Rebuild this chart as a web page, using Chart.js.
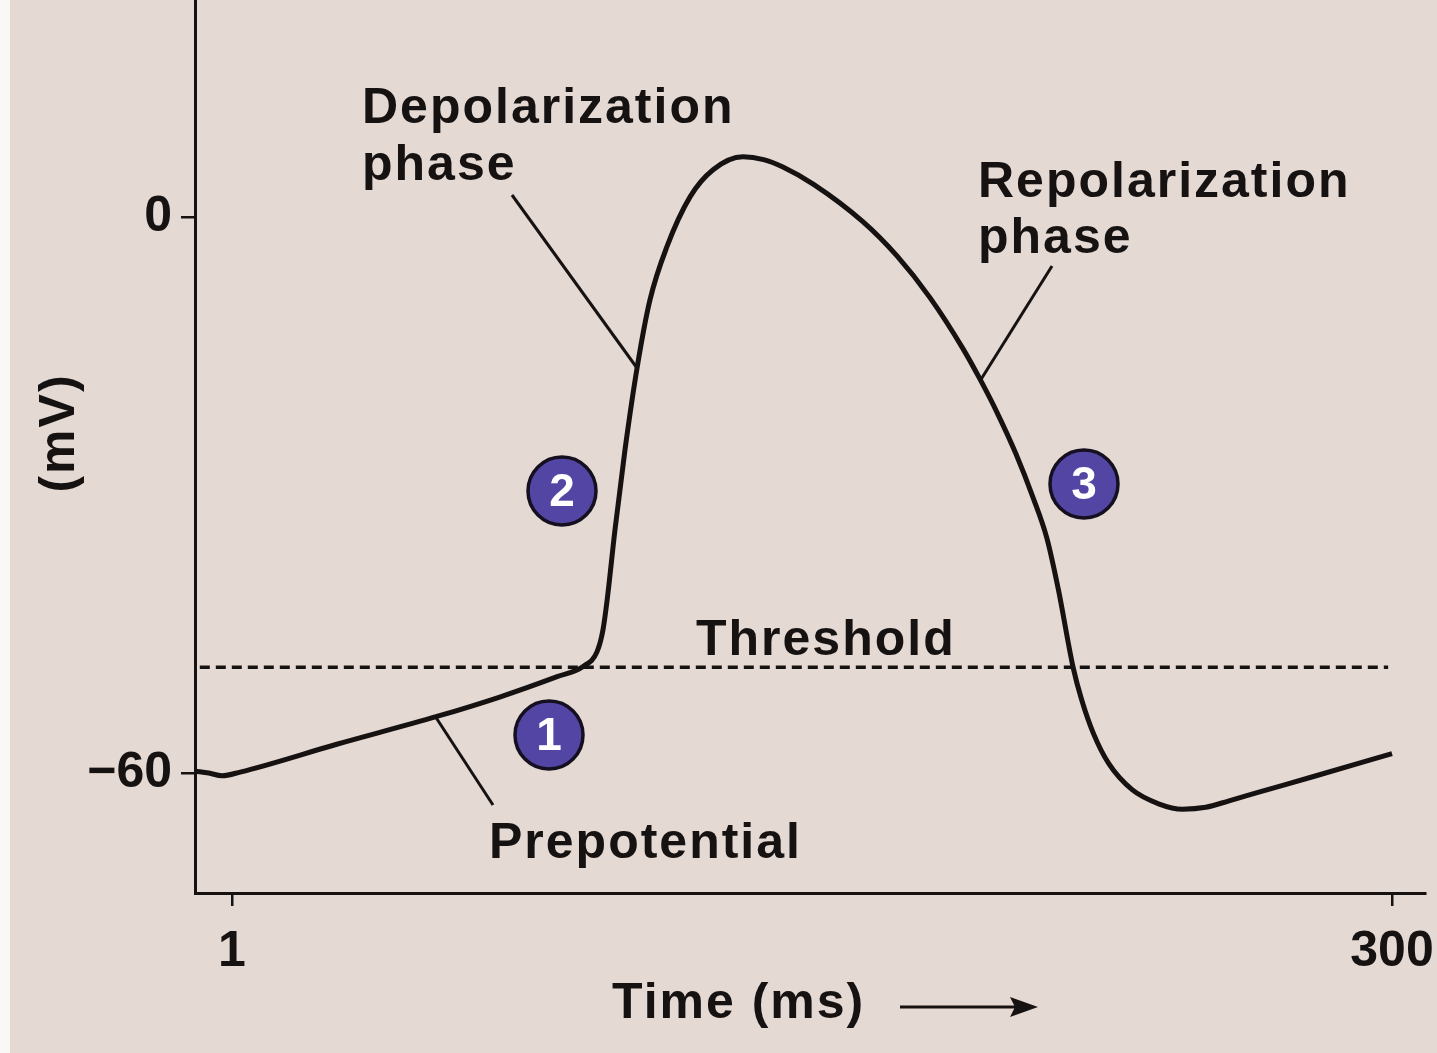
<!DOCTYPE html>
<html>
<head>
<meta charset="utf-8">
<title>Action potential</title>
<script src="https://cdn.jsdelivr.net/npm/chart.js@4.4.1/dist/chart.umd.min.js"></script>
<style>
  html, body { margin: 0; padding: 0; background: #faf8f7; }
  #wrap { position: absolute; left: 0; top: 0; width: 1437px; height: 1053px; }
</style>
</head>
<body>
<div id="wrap"><canvas id="ap"></canvas></div>
<script>
// membrane potential trace (time in ms, voltage in mV)
const timeMs = [-8.5, -5, -1.6, 3.1, 28, 53.8, 70, 84.8, 91.5, 95.1, 96.6, 97.7, 99.7, 102.3, 105.4,
  108.7, 113.1, 119.1, 125, 132.7, 138, 143, 151, 163.6, 172.4, 180.9, 189.4, 193.8, 198.2, 203, 207.5, 211,
  214, 217.8, 220, 223, 227, 233, 240, 246, 252, 258, 265, 280, 300];
const voltage = [-59.8, -60.0, -60.3, -59.9, -56.9, -53.9, -51.8, -49.6, -48.5, -46.9, -44.6, -41.3, -33.8, -25.1, -16.3,
  -9.0, -3.2, 2.2, 5.1, 6.5, 6.2, 5.4, 3.5, -0.5, -4.2, -8.7, -14.2, -17.5, -21.1, -25.5, -30.3, -34.6,
  -40.2, -48.6, -52.1, -55.7, -59.0, -61.8, -63.35, -63.9, -63.7, -63.0, -62.15, -60.35, -57.9];

// threshold level
const thresholdX = [-7.3, 299];
const thresholdY = [-48.6, -48.6];

// tick labels
const xTicks = [1, 300];
const yTicks = [-60, 0];

const FONT = '"Liberation Sans", Arial, sans-serif';
const INK = '#161212';

const trace = timeMs.map((t, i) => ({ x: t, y: voltage[i] }));
const threshold = thresholdX.map((t, i) => ({ x: t, y: thresholdY[i] }));

// background + the labels, leader lines and numbered dots
const decorations = {
  id: 'decorations',
  beforeDraw(chart) {
    const c = chart.ctx;
    c.save();
    c.fillStyle = '#e4d9d3';
    c.fillRect(10, 0, chart.width - 10, chart.height);
    c.restore();
  },
  afterDraw(chart) {
    const c = chart.ctx;
    c.save();
    c.fillStyle = INK;
    c.strokeStyle = INK;
    c.font = 'bold 50px ' + FONT;
    c.letterSpacing = '2px';
    c.textBaseline = 'alphabetic';
    c.textAlign = 'left';

    c.fillText('Depolarization', 362, 123);
    c.fillText('phase', 362, 180);
    c.fillText('Repolarization', 978, 197);
    c.fillText('phase', 978, 253);
    c.fillText('Threshold', 696, 655);
    c.fillText('Prepotential', 489, 858);
    c.fillText('Time (ms)', 612, 1018);

    // y axis title
    c.save();
    c.translate(74, 433);
    c.rotate(-Math.PI / 2);
    c.textAlign = 'center';
    c.fillText('(mV)', 0, 0);
    c.restore();

    // leader lines
    c.lineWidth = 3;
    c.lineCap = 'butt';
    const leaders = [[512, 195, 637, 368], [1052, 266, 980, 381], [435, 716, 493, 805]];
    leaders.forEach(l => {
      c.beginPath();
      c.moveTo(l[0], l[1]);
      c.lineTo(l[2], l[3]);
      c.stroke();
    });

    // time arrow
    c.lineWidth = 3;
    c.beginPath();
    c.moveTo(900, 1007);
    c.lineTo(1020, 1007);
    c.stroke();
    c.beginPath();
    c.moveTo(1038, 1007);
    c.lineTo(1010, 997);
    c.lineTo(1015, 1007);
    c.lineTo(1010, 1017);
    c.closePath();
    c.fill();

    // numbered dots
    const dots = [[549, 735, '1'], [562, 491, '2'], [1084, 484, '3']];
    dots.forEach(d => {
      c.beginPath();
      c.arc(d[0], d[1], 34, 0, Math.PI * 2);
      c.fillStyle = '#5345a4';
      c.fill();
      c.lineWidth = 3.5;
      c.strokeStyle = '#151020';
      c.stroke();
      c.fillStyle = '#ffffff';
      c.letterSpacing = '0px';
      c.font = 'bold 46px ' + FONT;
      c.textAlign = 'center';
      c.textBaseline = 'middle';
      c.fillText(d[2], d[0], d[1] + 2);
    });
    c.restore();
  }
};

const chart = new Chart(document.getElementById('ap'), {
  type: 'line',
  data: {
    datasets: [
      {
        data: trace,
        borderColor: INK,
        borderWidth: 5,
        pointRadius: 0,
        cubicInterpolationMode: 'monotone',
        fill: false
      },
      {
        data: threshold,
        borderColor: INK,
        borderWidth: 3.5,
        borderDash: [10, 6],
        pointRadius: 0,
        fill: false
      }
    ]
  },
  options: {
    responsive: true,
    maintainAspectRatio: false,
    animation: false,
    events: [],
    layout: { padding: { left: 0, right: 12, top: 0, bottom: 0 } },
    plugins: {
      legend: { display: false },
      tooltip: { enabled: false },
      title: { display: false }
    },
    scales: {
      x: {
        type: 'linear',
        min: -8.54,
        max: 308.5,
        afterBuildTicks: s => { s.ticks = xTicks.map(v => ({ value: v })); },
        afterFit: s => { s.height = 160; s.paddingLeft = 0; s.paddingRight = 0; },
        border: { display: true, color: INK, width: 3 },
        grid: { drawOnChartArea: false, drawTicks: true, tickLength: 13, color: INK, lineWidth: 2.5 },
        ticks: {
          autoSkip: false,
          maxRotation: 0,
          padding: 16,
          color: INK,
          font: { family: FONT, size: 50, weight: 'bold' }
        }
      },
      y: {
        min: -72.95,
        max: 23.42,
        afterBuildTicks: s => { s.ticks = yTicks.map(v => ({ value: v })); },
        afterFit: s => { s.width = 195; s.paddingTop = 0; s.paddingBottom = 0; },
        border: { display: true, color: INK, width: 3 },
        grid: { drawOnChartArea: false, drawTicks: true, tickLength: 14, color: INK, lineWidth: 2.5 },
        ticks: {
          autoSkip: false,
          padding: 9,
          color: INK,
          font: { family: FONT, size: 50, weight: 'bold' },
          callback: v => (v < 0 ? '\u2212' + Math.abs(v) : String(v))
        }
      }
    }
  },
  plugins: [decorations]
});
</script>
</body>
</html>
